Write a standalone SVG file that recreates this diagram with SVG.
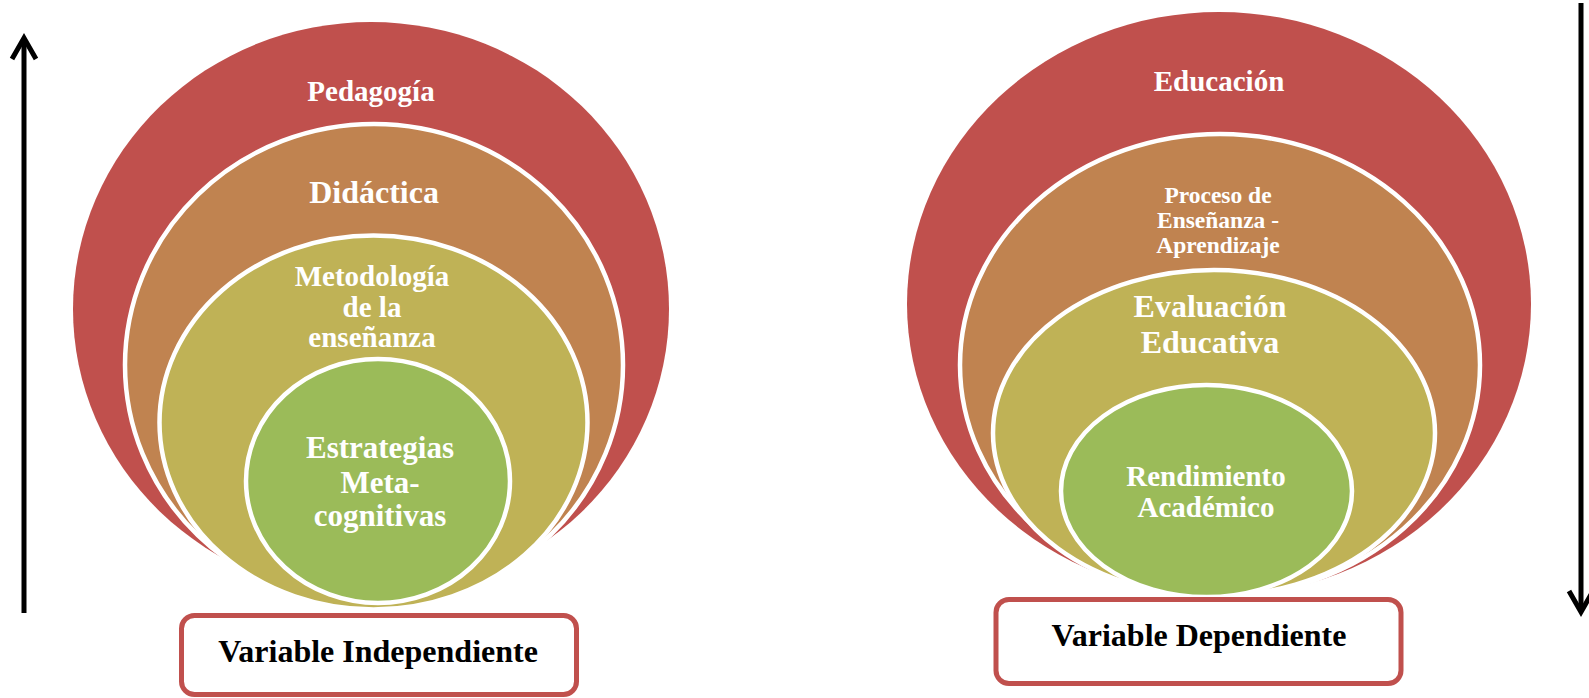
<svg xmlns="http://www.w3.org/2000/svg" width="1589" height="698" viewBox="0 0 1589 698">
<style>
.l1{fill:#C0504D}
.l2{fill:#C08350;stroke:#FFFFFF;stroke-width:4.5}
.l3{fill:#BFB256;stroke:#FFFFFF;stroke-width:4.5}
.l4{fill:#9BBB59;stroke:#FFFFFF;stroke-width:4.5}
.t{font-family:"Liberation Serif","Times New Roman",serif;font-weight:bold;fill:#FFFFFF;text-anchor:middle}
.bt{font-family:"Liberation Serif","Times New Roman",serif;font-weight:bold;fill:#000000;text-anchor:middle;font-size:32px}
.box{fill:#FFFFFF;stroke:#C0504D;stroke-width:5}
.ar{fill:none;stroke:#000000;stroke-width:5;stroke-linecap:butt}
</style>
<rect width="1589" height="698" fill="#FFFFFF"/>
<g id="left-diagram">
  <g id="pedagogia">
    <ellipse class="l1" cx="371" cy="309" rx="298" ry="287"/>
    <text class="t" x="371" y="101" font-size="29">Pedagogía</text>
  </g>
  <g id="didactica">
    <ellipse class="l2" cx="374" cy="365" rx="249" ry="241"/>
    <text class="t" x="374" y="203" font-size="32">Didáctica</text>
  </g>
  <g id="metodologia">
    <ellipse class="l3" cx="373.5" cy="422.5" rx="214" ry="187"/>
    <text class="t" x="372" font-size="29"><tspan x="372" y="286">Metodología</tspan><tspan x="372" y="317">de la</tspan><tspan x="372" y="347">enseñanza</tspan></text>
  </g>
  <g id="estrategias">
    <ellipse class="l4" cx="378" cy="481" rx="132" ry="122"/>
    <text class="t" x="380" font-size="31"><tspan x="380" y="458">Estrategias</tspan><tspan x="380" y="493">Meta-</tspan><tspan x="380" y="526">cognitivas</tspan></text>
  </g>
  <g id="variable-independiente">
    <rect class="box" x="181.5" y="615.5" width="395" height="79" rx="13"/>
    <text class="bt" x="378" y="662">Variable Independiente</text>
  </g>
</g>
<g id="right-diagram">
  <g id="educacion">
    <ellipse class="l1" cx="1219" cy="304" rx="312" ry="292"/>
    <text class="t" x="1219" y="91" font-size="29">Educación</text>
  </g>
  <g id="proceso">
    <ellipse class="l2" cx="1220" cy="365" rx="260" ry="231"/>
    <text class="t" x="1218" font-size="23.5"><tspan x="1218" y="203">Proceso de</tspan><tspan x="1218" y="228">Enseñanza -</tspan><tspan x="1218" y="253">Aprendizaje</tspan></text>
  </g>
  <g id="evaluacion">
    <ellipse class="l3" cx="1214" cy="433" rx="221" ry="163"/>
    <text class="t" x="1210" font-size="32"><tspan x="1210" y="317">Evaluación</tspan><tspan x="1210" y="353">Educativa</tspan></text>
  </g>
  <g id="rendimiento">
    <ellipse class="l4" cx="1206.5" cy="491" rx="145.5" ry="106"/>
    <text class="t" x="1206" font-size="29"><tspan x="1206" y="486">Rendimiento</tspan><tspan x="1206" y="517">Académico</tspan></text>
  </g>
  <g id="variable-dependiente">
    <rect class="box" x="996" y="599.5" width="405" height="84" rx="13"/>
    <text class="bt" x="1199" y="646">Variable Dependiente</text>
  </g>
</g>
<g id="connectors">
  <line class="ar" x1="24" y1="613" x2="24" y2="40"/>
  <polyline class="ar" points="12,59 24,38 36,59"/>
  <line class="ar" x1="1581" y1="3" x2="1581" y2="610"/>
  <polyline class="ar" points="1569,591 1581,612 1593,591"/>
</g>
</svg>
